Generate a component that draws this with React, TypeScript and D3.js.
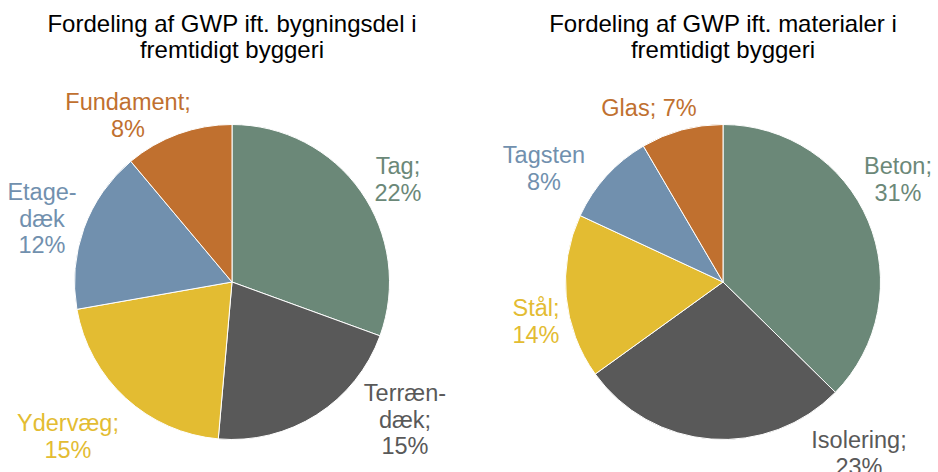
import React from "react";
import * as d3 from "d3";

const leftTitle = ["Fordeling af GWP ift. bygningsdel i", "fremtidigt byggeri"];
const leftCategories = ["Tag", "Terrændæk", "Ydervæg", "Etagedæk", "Fundament"];
const leftValues = [22, 15, 15, 12, 8];
const leftLabels = [["Tag;", "22%"], ["Terræn-", "dæk;", "15%"], ["Ydervæg;", "15%"], ["Etage-", "dæk", "12%"], ["Fundament;", "8%"]];

const rightTitle = ["Fordeling af GWP ift. materialer i", "fremtidigt byggeri"];
const rightCategories = ["Beton", "Isolering", "Stål", "Tagsten", "Glas"];
const rightValues = [31, 23, 14, 8, 7];
const rightLabels = [["Beton;", "31%"], ["Isolering;", "23%"], ["Stål;", "14%"], ["Tagsten", "8%"], ["Glas; 7%"]];

const colors = ["#6b8878", "#595959", "#e3bc32", "#7190ae", "#c0702f"];

// label anchor positions (layout, first line center)
const leftLabelPos = [[398, 166], [405, 393], [68, 423], [42, 192], [128, 102]];
const rightLabelPos = [[898, 166], [859, 440], [536, 308], [544, 155], [649, 108]];

const W = 938, H = 472;
const R = 157.5;
const LH = 26.5;
const FONT = "Liberation Sans, Arial, sans-serif";

function Pie({ cx, cy, title, categories, values, labels, labelPos }: any) {
  const pie = d3.pie<number>().sort(null).value((d) => d);
  const arcs = pie(values);
  const arc = d3.arc<d3.PieArcDatum<number>>().innerRadius(0).outerRadius(R);
  return (
    <g>
      {title.map((t: string, i: number) => (
        <text key={"t" + i} x={cx} y={23 + i * 26} textAnchor="middle" dominantBaseline="central"
          fontSize={24} fill="#000" fontFamily={FONT}>{t}</text>
      ))}
      <g transform={`translate(${cx},${cy})`}>
        {arcs.map((a, i) => (
          <path key={categories[i]} d={arc(a) as string} fill={colors[i]} stroke="#fff" strokeWidth={1} />
        ))}
      </g>
      {labels.map((lines: string[], i: number) => (
        <text key={"l" + i} textAnchor="middle" fontSize={23.5} fill={colors[i]} fontFamily={FONT}>
          {lines.map((ln, j) => (
            <tspan key={j} x={labelPos[i][0]} y={labelPos[i][1] + j * LH} dominantBaseline="central">{ln}</tspan>
          ))}
        </text>
      ))}
    </g>
  );
}

export default function App() {
  return (
    <svg width={W} height={H} style={{ position: "absolute", left: 0, top: 0, background: "#fff" }}>
      <rect width={W} height={H} fill="#fff" />
      <Pie cx={232} cy={282} title={leftTitle} categories={leftCategories} values={leftValues}
        labels={leftLabels} labelPos={leftLabelPos} />
      <Pie cx={723} cy={282} title={rightTitle} categories={rightCategories} values={rightValues}
        labels={rightLabels} labelPos={rightLabelPos} />
    </svg>
  );
}
